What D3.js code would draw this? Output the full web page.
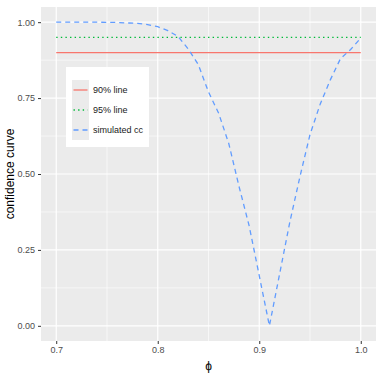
<!DOCTYPE html>
<html>
<head>
<meta charset="utf-8">
<script src="https://cdn.jsdelivr.net/npm/d3@7"></script>
<style>
  body { margin: 0; background: #fff; }
  text { font-family: "Liberation Sans", Arial, sans-serif; }
</style>
</head>
<body>
<div id="chart"></div>
<script>
// DATA
const phi = [0.70, 0.72, 0.74, 0.76, 0.78, 0.79, 0.80, 0.81, 0.82, 0.83, 0.84, 0.85,
             0.86, 0.87, 0.88, 0.89, 0.90, 0.91, 0.92, 0.93, 0.94, 0.95, 0.96, 0.97,
             0.98, 0.99, 1.00]
const cc = [1.000, 1.000, 1.000, 0.999, 0.996, 0.992, 0.985, 0.972, 0.953, 0.912, 0.860, 0.770,
            0.700, 0.600, 0.460, 0.330, 0.165, 0.000, 0.170, 0.340, 0.490, 0.630, 0.730, 0.810,
            0.880, 0.910, 0.948]
const refLevels = [0.90, 0.95]
const legendLabels = ["90% line", "95% line", "simulated cc"]
const xTicks = [0.7, 0.8, 0.9, 1.0]
const yTicks = [0, 0.25, 0.5, 0.75, 1]

const width = 382, height = 382
const panel = { left: 41, right: 376, top: 7, bottom: 341 }

const colors = ["#F8766D", "#00BA38", "#619CFF"]
const dashes = [null, "1.4,3.2", "5,4"]

const svg = d3.select("#chart").append("svg")
  .attr("width", width)
  .attr("height", height)

const xScale = d3.scaleLinear()
  .domain([0.685, 1.015])
  .range([panel.left, panel.right])

const yScale = d3.scaleLinear()
  .domain([-0.05, 1.05])
  .range([panel.bottom, panel.top])

// panel background
svg.append("rect")
  .attr("x", panel.left).attr("y", panel.top)
  .attr("width", panel.right - panel.left)
  .attr("height", panel.bottom - panel.top)
  .attr("fill", "#EBEBEB")

// minor grid
const xMinor = [0.75, 0.85, 0.95]
const yMinor = [0.125, 0.375, 0.625, 0.875]
svg.append("g").selectAll("line").data(xMinor).join("line")
  .attr("x1", d => xScale(d)).attr("x2", d => xScale(d))
  .attr("y1", panel.top).attr("y2", panel.bottom)
  .attr("stroke", "#fff").attr("stroke-width", 0.6)
svg.append("g").selectAll("line").data(yMinor).join("line")
  .attr("y1", d => yScale(d)).attr("y2", d => yScale(d))
  .attr("x1", panel.left).attr("x2", panel.right)
  .attr("stroke", "#fff").attr("stroke-width", 0.6)

// major grid
svg.append("g").selectAll("line").data(xTicks).join("line")
  .attr("x1", d => xScale(d)).attr("x2", d => xScale(d))
  .attr("y1", panel.top).attr("y2", panel.bottom)
  .attr("stroke", "#fff").attr("stroke-width", 1.2)
svg.append("g").selectAll("line").data(yTicks).join("line")
  .attr("y1", d => yScale(d)).attr("y2", d => yScale(d))
  .attr("x1", panel.left).attr("x2", panel.right)
  .attr("stroke", "#fff").attr("stroke-width", 1.2)

// AXES
const xAxis = svg.append("g")
  .attr("transform", `translate(0, ${panel.bottom})`)
  .call(d3.axisBottom(xScale).tickValues(xTicks).tickFormat(d3.format(".1f")).tickSize(3).tickPadding(3))
const yAxis = svg.append("g")
  .attr("transform", `translate(${panel.left}, 0)`)
  .call(d3.axisLeft(yScale).tickValues(yTicks).tickFormat(d3.format(".2f")).tickSize(3).tickPadding(3))

;[xAxis, yAxis].forEach(ax => {
  ax.select(".domain").remove()
  ax.selectAll(".tick line").attr("stroke", "#333").attr("stroke-width", 1)
  ax.selectAll(".tick text")
    .attr("fill", "#4D4D4D")
    .attr("font-size", 9)
    .attr("font-family", "Liberation Sans, Arial, sans-serif")
})

svg.append("text")
  .text("ϕ")
  .attr("x", (panel.left + panel.right) / 2)
  .attr("y", 370)
  .attr("text-anchor", "middle")
  .attr("font-size", 12)

svg.append("text")
  .text("confidence curve")
  .attr("transform", `translate(14, ${(panel.top + panel.bottom) / 2}) rotate(-90)`)
  .attr("text-anchor", "middle")
  .attr("font-size", 12)

// LINES
const line = d3.line().x(d => xScale(d[0])).y(d => yScale(d[1]))

refLevels.forEach((lv, i) => {
  svg.append("path")
    .datum([[0.7, lv], [1.0, lv]])
    .attr("d", line)
    .attr("fill", "none")
    .attr("stroke", colors[i])
    .attr("stroke-width", 1.3)
    .attr("stroke-dasharray", dashes[i])
})

svg.append("path")
  .datum(phi.map((p, i) => [p, cc[i]]))
  .attr("d", line)
  .attr("fill", "none")
  .attr("stroke", colors[2])
  .attr("stroke-width", 1.3)
  .attr("stroke-dasharray", dashes[2])

// LEGEND
const legend = svg.append("g").attr("transform", "translate(66, 67)")
legend.append("rect")
  .attr("width", 83).attr("height", 80)
  .attr("fill", "#fff")
legend.selectAll(".key").data(legendLabels).join("rect")
  .attr("x", 6).attr("y", (d, i) => 13 + i * 20)
  .attr("width", 17).attr("height", 20)
  .attr("fill", "#EBEBEB")
legend.selectAll(".kl").data(legendLabels).join("line")
  .attr("x1", 7.5).attr("x2", 21.5)
  .attr("y1", (d, i) => 23 + i * 20).attr("y2", (d, i) => 23 + i * 20)
  .attr("stroke", (d, i) => colors[i])
  .attr("stroke-width", 1.3)
  .attr("stroke-dasharray", (d, i) => dashes[i])
legend.selectAll("text").data(legendLabels).join("text")
  .text(d => d)
  .attr("x", 27).attr("y", (d, i) => 26 + i * 20)
  .attr("font-size", 9)
  .attr("fill", "#1A1A1A")
</script>
</body>
</html>
